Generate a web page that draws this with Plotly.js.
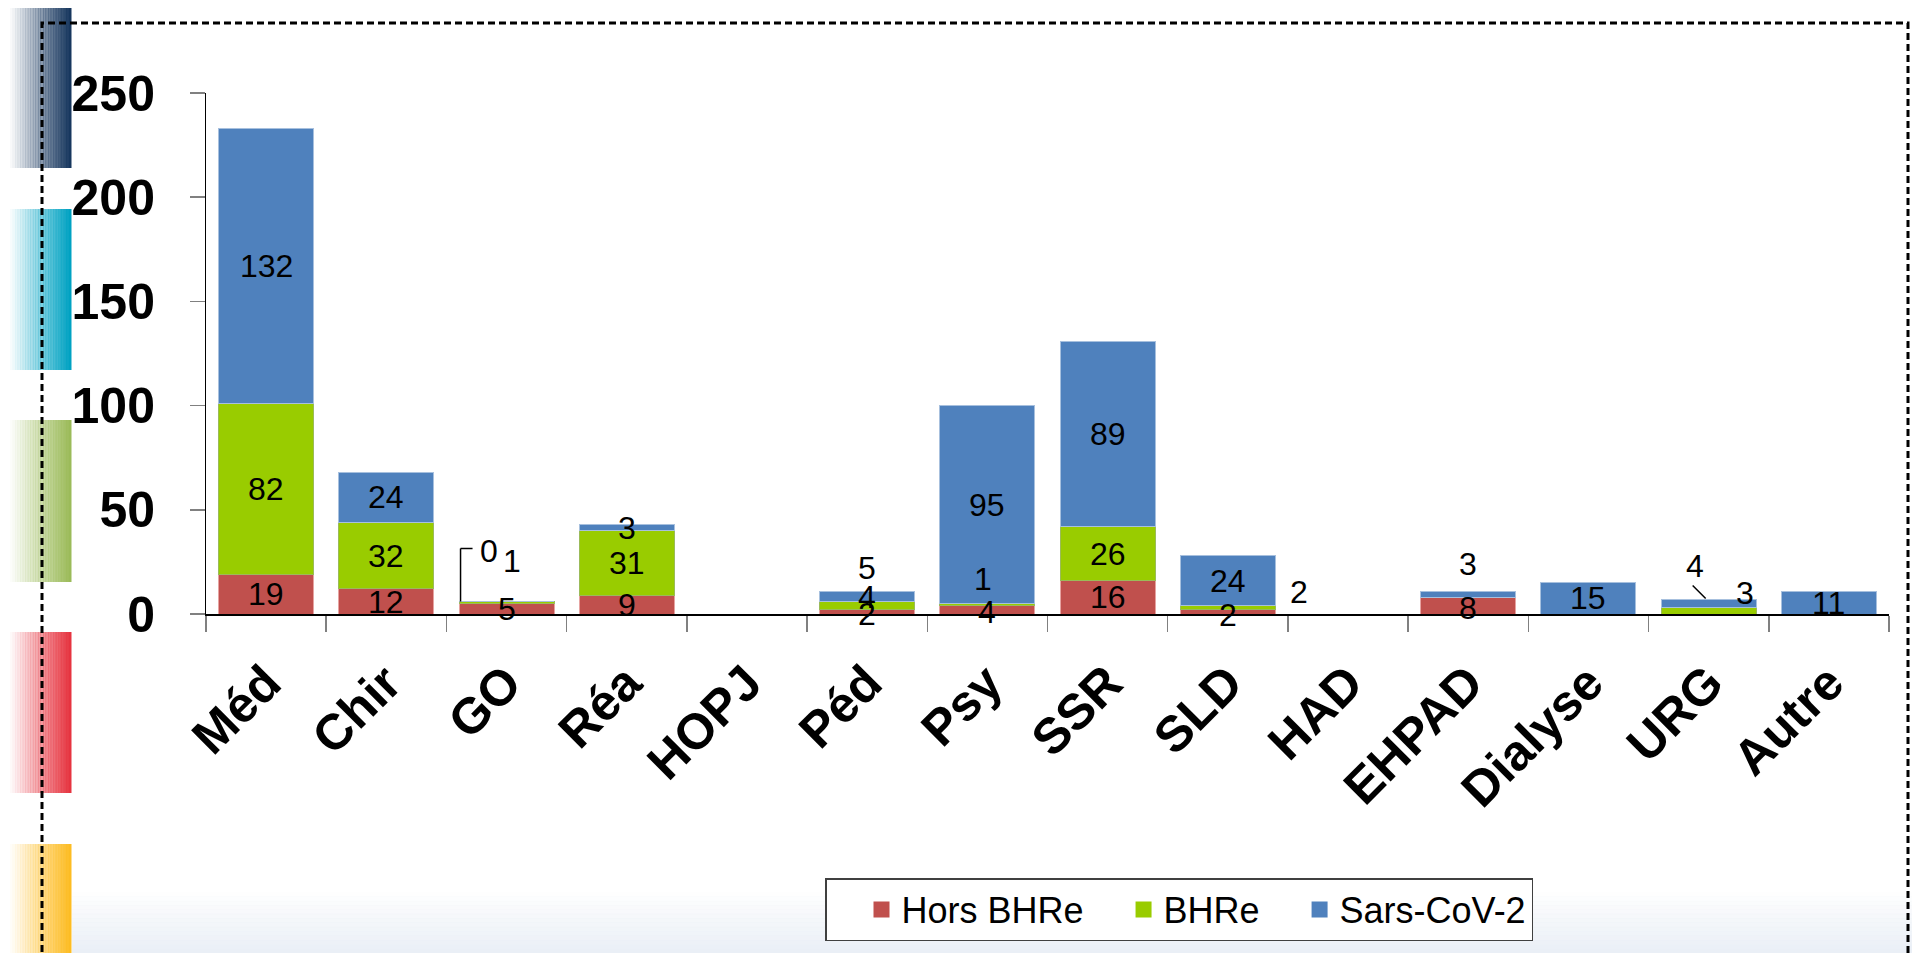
<!DOCTYPE html>
<html>
<head>
<meta charset="utf-8">
<script src="https://cdn.plot.ly/plotly-3.0.1.min.js"></script>
<style>
html,body{margin:0;padding:0;background:#ffffff;overflow:hidden;}
#chart{width:1912px;height:953px;}
</style>
</head>
<body>
<div id="chart"></div>
<script>
// ---------- data ----------
const categories = ['Méd','Chir','GO','Réa','HOPJ','Péd','Psy','SSR','SLD','HAD','EHPAD','Dialyse','URG','Autre'];
const horsBHRe  = [19, 12, 5,  9, null, 2,  4, 16,  2, null, 8,    null, null, null];
const bhre      = [82, 32, 1, 31, null, 4,  1, 26,  2, null, null, null, 3,    null];
const sarsCoV2  = [132,24, 0,  3, null, 5, 95, 89, 24, null, 3,    15,   4,    11];
const seriesNames = ['Hors BHRe', 'BHRe', 'Sars-CoV-2'];
const yTickValues = [0, 50, 100, 150, 200, 250];

// ---------- styles ----------
const W = 1912, H = 953;
const M = {l: 206, r: 23, t: 93, b: 339};
const PW = W - M.l - M.r, PH = H - M.t - M.b;
const fillColors = ['#C0504D', '#99CC00', '#4F81BD'];
const edgeColors = ['#E6A3A1', '#9BBB59', '#A7C0DE'];
const FONT = 'Arial, "Liberation Sans", sans-serif';
const labelFont = {family: FONT, size: 32, color: '#000000'};

// label nudges in pixels [dx, dy(up)] by category and series index (Excel-style moved labels)
const labelNudges = {
  'GO':    {1: [5, 42], 2: [-18, 51]},
  'Péd':   {0: [0, -2], 1: [0, 9], 2: [0, 28]},
  'Psy':   {0: [0, -2], 1: [-4, 26]},
  'SLD':   {0: [0, -3], 1: [71, 16]},
  'EHPAD': {0: [0, -2], 2: [0, 30]},
  'URG':   {1: [36, 18], 2: [-14, 38]}
};

const series = [horsBHRe, bhre, sarsCoV2];

// ---------- traces ----------
const traces = series.map((vals, k) => ({
  type: 'bar',
  name: seriesNames[k],
  x: categories,
  y: vals,
  marker: {color: fillColors[k], line: {color: edgeColors[k], width: 1}},
  textposition: 'none',
  hoverinfo: 'skip',
  showlegend: false
}));
// legend entries (square swatches)
seriesNames.forEach((n, k) => {
  traces.push({
    type: 'scatter', mode: 'markers', name: n,
    x: [null], y: [null],
    marker: {symbol: 'square', size: 16, color: fillColors[k], line: {width: 0}},
    hoverinfo: 'skip', showlegend: true
  });
});

// ---------- data labels ----------
const annotations = [];
const stackTop = {};
categories.forEach((c, i) => {
  let base = 0;
  series.forEach((arr, s) => {
    const v = arr[i];
    if (v === null || v === undefined) return;
    const n = (labelNudges[c] || {})[s] || [0, 0];
    annotations.push({
      x: c, y: base + v / 2, xref: 'x', yref: 'y',
      text: String(v), showarrow: false,
      xanchor: 'center', yanchor: 'middle',
      xshift: n[0], yshift: n[1],
      font: labelFont
    });
    base += v;
  });
  stackTop[c] = base;
});

// ---------- decorations ----------
const px2x = px => (px - M.l) / PW;
const px2y = py => (M.t + PH - py) / PH;
const shapes = [];

// left gradient colour bars
const sideBars = [
  {color: [23, 55, 94],   y0: 8,   y1: 168},
  {color: [0, 162, 194],  y0: 209, y1: 370},
  {color: [155, 187, 89], y0: 420, y1: 582},
  {color: [230, 52, 64],  y0: 632, y1: 793},
  {color: [253, 188, 35], y0: 844, y1: 1005}
];
const NS = 24, sbX0 = 10, sbX1 = 71;
sideBars.forEach(b => {
  for (let k = 0; k < NS; k++) {
    const a = Math.pow((k + 1) / NS, 1.1);
    shapes.push({
      type: 'rect', xref: 'paper', yref: 'paper', layer: 'below',
      x0: px2x(sbX0 + (sbX1 - sbX0) * k / NS), x1: px2x(sbX0 + (sbX1 - sbX0) * (k + 1) / NS + 0.5),
      y0: px2y(b.y1), y1: px2y(b.y0),
      fillcolor: `rgba(${b.color[0]},${b.color[1]},${b.color[2]},${a.toFixed(3)})`,
      line: {width: 0}
    });
  }
});
// bottom soft band
const NB = 14, bb0 = 892, bb1 = 953;
for (let k = 0; k < NB; k++) {
  const a = (k + 1) / NB;
  shapes.push({
    type: 'rect', xref: 'paper', yref: 'paper', layer: 'below',
    x0: px2x(72), x1: px2x(1912),
    y0: px2y(bb0 + (bb1 - bb0) * (k + 1) / NB + 0.5), y1: px2y(bb0 + (bb1 - bb0) * k / NB),
    fillcolor: `rgba(234,239,246,${a.toFixed(3)})`,
    line: {width: 0}
  });
}
// dashed frame
shapes.push({
  type: 'rect', xref: 'paper', yref: 'paper', layer: 'above',
  x0: px2x(42), x1: px2x(1908), y0: px2y(990), y1: px2y(23),
  fillcolor: 'rgba(0,0,0,0)',
  line: {color: '#000000', width: 3, dash: '7px,4px'}
});
// leader lines (anchored to stack tops, offsets in pixels)
const leader = (cat, x0, y0, x1, y1) => ({
  type: 'line', xref: 'x', yref: 'y',
  xsizemode: 'pixel', ysizemode: 'pixel',
  xanchor: categories.indexOf(cat), yanchor: stackTop[cat],
  x0: x0, y0: y0, x1: x1, y1: y1,
  line: {color: '#000000', width: 1.5}
});
shapes.push(leader('GO', -46, 0, -46, 53));
shapes.push(leader('GO', -46, 53, -34, 53));
shapes.push(leader('URG', -16, 14, -3, 1));

// ---------- layout ----------
const layout = {
  width: W, height: H,
  margin: M,
  paper_bgcolor: '#ffffff',
  plot_bgcolor: 'rgba(0,0,0,0)',
  barmode: 'stack',
  bargap: 0.21,
  showlegend: true,
  font: {family: FONT, color: '#000000'},
  xaxis: {
    type: 'category',
    tickangle: -45,
    tickfont: {family: FONT, size: 50, weight: 'bold', color: '#000000'},
    ticks: 'outside', tickson: 'boundaries', ticklen: 16, tickcolor: '#808080', tickwidth: 1.5,
    ticklabelstandoff: 18,
    showline: true, linecolor: '#000000', linewidth: 1.5,
    showgrid: false, zeroline: false, fixedrange: true
  },
  yaxis: {
    range: [0, 250],
    tickmode: 'array', tickvals: yTickValues, ticktext: yTickValues.map(String),
    tickfont: {family: FONT, size: 50, weight: 'bold', color: '#000000'},
    ticks: 'outside', ticklen: 15, tickcolor: '#808080', tickwidth: 1.5,
    ticklabelstandoff: 25,
    showline: true, linecolor: '#000000', linewidth: 1,
    showgrid: false, zeroline: false, fixedrange: true
  },
  legend: {
    orientation: 'h',
    traceorder: 'normal',
    x: px2x(825), xanchor: 'left',
    y: px2y(878), yanchor: 'top',
    bgcolor: '#ffffff', bordercolor: '#404040', borderwidth: 1.5,
    font: {family: FONT, size: 36, color: '#000000'},
    indentation: 35,
    itemclick: false, itemdoubleclick: false
  },
  annotations: annotations,
  shapes: shapes
};

Plotly.newPlot('chart', traces, layout, {displayModeBar: false, staticPlot: true});
</script>
</body>
</html>
